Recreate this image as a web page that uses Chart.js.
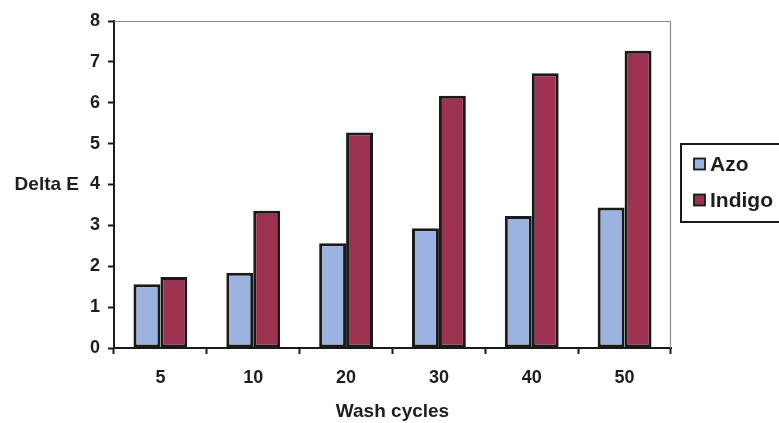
<!DOCTYPE html>
<html>
<head>
<meta charset="utf-8">
<script src="https://cdn.jsdelivr.net/npm/chart.js@4/dist/chart.umd.min.js"></script>
<style>
  html, body { margin: 0; padding: 0; background: #ffffff; }
  #wrap { width: 779px; height: 423px; position: relative; }
</style>
</head>
<body>
<div id="wrap"><canvas id="c" width="779" height="423"></canvas></div>
<script>
// Colour difference after repeated washing
const categories = ['5', '10', '20', '30', '40', '50'];
const azoValues = [1.56, 1.84, 2.56, 2.93, 3.23, 3.44];
const indigoValues = [1.74, 3.36, 5.27, 6.17, 6.72, 7.27];
const seriesNames = ['Azo', 'Indigo'];
const yAxisLabel = 'Delta E';
const xAxisLabel = 'Wash cycles';

const FONT = '"Liberation Sans", Arial, sans-serif';
const INK = '#1e1e1e';

// Thin grey frame on the top and right of the plot area
const framePlugin = {
  id: 'frame',
  beforeDatasetsDraw(chart) {
    const { ctx, chartArea: a } = chart;
    ctx.save();
    ctx.strokeStyle = '#8a8a8a';
    ctx.lineWidth = 1.2;
    ctx.beginPath();
    ctx.moveTo(a.left, a.top + 0.5);
    ctx.lineTo(a.right - 0.5, a.top + 0.5);
    ctx.lineTo(a.right - 0.5, a.bottom);
    ctx.stroke();
    ctx.restore();
  }
};

// Horizontal value-axis caption beside the ticks, and a boxed legend on the right
const annotatePlugin = {
  id: 'annotate',
  afterDraw(chart) {
    const { ctx } = chart;
    const y = chart.scales.y;
    ctx.save();
    ctx.fillStyle = INK;
    ctx.font = 'bold 19px ' + FONT;
    ctx.textAlign = 'right';
    ctx.textBaseline = 'middle';
    ctx.fillText(yAxisLabel, 79, y.getPixelForValue(4));

    // legend box
    const bx = 681, by = 144, bw = 110, bh = 78;
    ctx.lineWidth = 2;
    ctx.strokeStyle = '#1a1a1a';
    ctx.fillStyle = '#ffffff';
    ctx.fillRect(bx, by, bw, bh);
    ctx.strokeRect(bx, by, bw, bh);
    ctx.font = 'bold 21px ' + FONT;
    ctx.textAlign = 'left';
    chart.data.datasets.forEach((ds, i) => {
      const cy = 164 + i * 36;
      ctx.fillStyle = ds.backgroundColor;
      ctx.fillRect(694, cy - 5.5, 11, 11);
      ctx.lineWidth = 1.8;
      ctx.strokeStyle = '#1a1a1a';
      ctx.strokeRect(694, cy - 5.5, 11, 11);
      ctx.fillStyle = INK;
      ctx.fillText(ds.label, 710, cy + 1);
    });
    ctx.restore();
  }
};

new Chart(document.getElementById('c'), {
  type: 'bar',
  data: {
    labels: categories,
    datasets: [
      {
        label: seriesNames[0],
        data: azoValues,
        backgroundColor: '#9cb2df',
        borderColor: '#1a1a1a',
        borderWidth: 3,
        borderSkipped: false
      },
      {
        label: seriesNames[1],
        data: indigoValues,
        backgroundColor: '#9c3150',
        borderColor: '#1a1a1a',
        borderWidth: 3,
        borderSkipped: false
      }
    ]
  },
  options: {
    responsive: false,
    animation: false,
    devicePixelRatio: 1,
    layout: { padding: { left: 0, top: 21, right: 108, bottom: 0 } },
    datasets: { bar: { categoryPercentage: 0.58, barPercentage: 1.0 } },
    plugins: {
      legend: { display: false },
      tooltip: { enabled: false }
    },
    scales: {
      x: {
        offset: true,
        afterFit(scale) { scale.height = 75; },
        grid: {
          offset: true,
          drawOnChartArea: false,
          drawTicks: true,
          tickLength: 6,
          tickWidth: 2,
          tickColor: '#1a1a1a'
        },
        border: { display: true, color: '#1a1a1a', width: 2 },
        ticks: {
          color: INK,
          font: { family: FONT, size: 18, weight: 'bold' },
          padding: 13,
          maxRotation: 0
        },
        title: {
          display: true,
          text: xAxisLabel,
          color: INK,
          font: { family: FONT, size: 19, weight: 'bold' },
          padding: { top: 0, bottom: 0 }
        }
      },
      y: {
        min: 0,
        max: 8,
        afterFit(scale) { scale.width = 114; },
        grid: {
          drawOnChartArea: false,
          drawTicks: true,
          tickLength: 6,
          tickWidth: 2,
          tickColor: '#1a1a1a'
        },
        border: { display: true, color: '#1a1a1a', width: 2 },
        ticks: {
          stepSize: 1,
          color: INK,
          font: { family: FONT, size: 18, weight: 'bold' },
          padding: 8
        }
      }
    }
  },
  plugins: [framePlugin, annotatePlugin]
});
</script>
</body>
</html>
